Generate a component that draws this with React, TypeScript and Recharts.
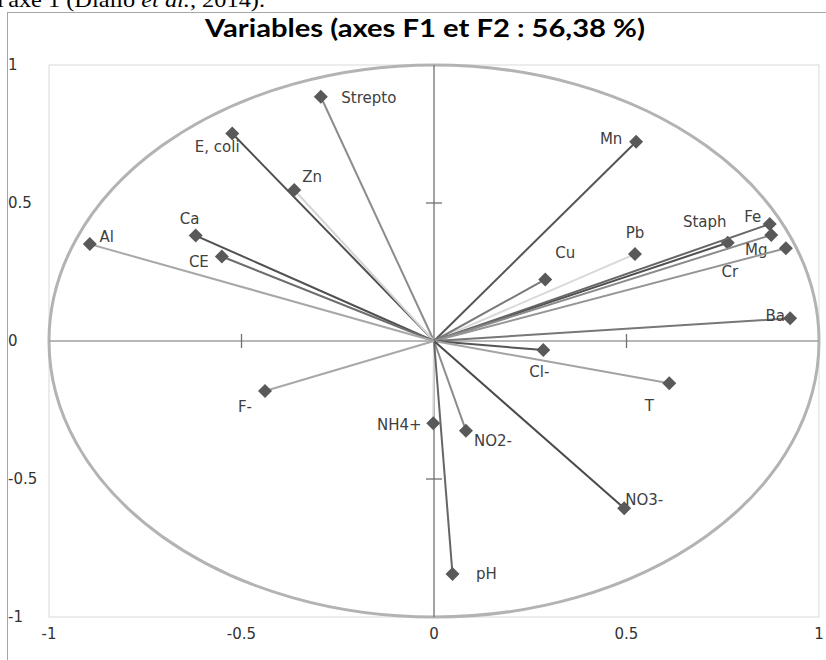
import {
  ReferenceArea,
  ReferenceDot,
  ReferenceLine,
  Scatter,
  ScatterChart,
  XAxis,
  YAxis
} from "recharts";

// loadings on F1 / F2
const VARIABLES = [
  "Strepto", "E, coli", "Zn", "Ca", "CE", "Al",
  "Mn", "Pb", "Cu", "Staph", "Fe", "Mg", "Cr", "Ba",
  "Cl-", "T", "NH4+", "NO2-", "NO3-", "pH", "F-"
];
const F1 = [
  -0.294, -0.524, -0.363, -0.619, -0.551, -0.894,
  0.525, 0.522, 0.289, 0.763, 0.872, 0.876, 0.914, 0.925,
  0.284, 0.611, -0.002, 0.083, 0.494, 0.048, -0.439
];
const F2 = [
  0.885, 0.752, 0.547, 0.382, 0.306, 0.351,
  0.722, 0.315, 0.223, 0.356, 0.424, 0.384, 0.336, 0.082,
  -0.033, -0.153, -0.298, -0.325, -0.606, -0.844, -0.181
];
const AXIS_TICKS = [-1, -0.5, 0, 0.5, 1];
const HALF_TICKS = [-0.5, 0.5];

// per-variable line colour (Excel greyscale) and label offset from the marker
const LINE_COLORS: Record<string, string> = {
  Strepto: "#8c8c8c", "E, coli": "#4f4f4f", Zn: "#d4d4d4", Ca: "#505050", CE: "#6e6e6e",
  Al: "#a8a8a8", Mn: "#555555", Pb: "#d9d9d9", Cu: "#7a7a7a", Staph: "#505050",
  Fe: "#666666", Mg: "#8a8a8a", Cr: "#959595", Ba: "#777777", "Cl-": "#555555",
  T: "#a3a3a3", "NH4+": "#d6d6d6", "NO2-": "#8c8c8c", "NO3-": "#4a4a4a", pH: "#666666",
  "F-": "#a8a8a8"
};
const LABEL_OFFSETS: Record<string, [number, number]> = {
  Strepto: [48, 1], "E, coli": [-15, 14], Zn: [18, -13], Ca: [-6, -17], CE: [-23, 5],
  Al: [17, -7], Mn: [-25, -3], Pb: [0, -21], Cu: [20, -26], Staph: [-23, -21],
  Fe: [-17, -7], Mg: [-15, 15], Cr: [-56, 24], Ba: [-15, -2], "Cl-": [-4, 22],
  T: [-20, 23], "NH4+": [-34, 2], "NO2-": [27, 10], "NO3-": [20, -8], pH: [34, 0],
  "F-": [-20, 16]
};

const LABEL_FONT = "'DejaVu Sans', Verdana, sans-serif";
const MARKER = "#595959";

const vectors = VARIABLES.map((name, i) => ({
  name,
  data: [
    { x: 0, y: 0, name: "" },
    { x: F1[i], y: F2[i], name }
  ]
}));

function VectorEnd(props: any) {
  const { cx, cy, payload } = props;
  if (!payload || !payload.name) return <g />;
  const [dx, dy] = LABEL_OFFSETS[payload.name] ?? [12, 0];
  const s = 7;
  return (
    <g>
      <polygon
        points={`${cx},${cy - s} ${cx + s},${cy} ${cx},${cy + s} ${cx - s},${cy}`}
        fill={MARKER}
      />
      <text
        x={cx + dx}
        y={cy + dy}
        textAnchor="middle"
        dominantBaseline="central"
        fontFamily={LABEL_FONT}
        fontSize={15}
        fill="#404040"
      >
        {payload.name}
      </text>
    </g>
  );
}

function XTick(props: any) {
  const { x, y, payload } = props;
  return (
    <text x={x} y={y + 22} textAnchor="middle" fontFamily={LABEL_FONT} fontSize={15} fill="#333">
      {payload.value}
    </text>
  );
}

function YTick(props: any) {
  const { y, payload } = props;
  return (
    <text x={8} y={y} dy="0.35em" textAnchor="start" fontFamily={LABEL_FONT} fontSize={15} fill="#333">
      {payload.value}
    </text>
  );
}

export default function App() {
  return (
    <div style={{ position: "absolute", left: 0, top: 0, width: 826, height: 660, overflow: "hidden", background: "#fff" }}>
      <svg width={826} height={660} style={{ position: "absolute", left: 0, top: 0 }}>
        <text
          x={-3}
          y={7}
          fontFamily="'Liberation Serif', 'Times New Roman', serif"
          fontSize={22}
          fill="#000"
          textLength={268}
          lengthAdjust="spacingAndGlyphs"
        >
          l'axe 1 (Diallo <tspan fontStyle="italic">et al.</tspan>, 2014).
        </text>
        <rect x={7.5} y={12.5} width={900} height={700} fill="none" stroke="#a6a6a6" strokeWidth={1} />
        <text
          x={425}
          y={37}
          textAnchor="middle"
          fontFamily="Lato, 'Open Sans', sans-serif"
          fontWeight={700}
          fontSize={24}
          fill="#000"
          textLength={440}
          lengthAdjust="spacingAndGlyphs"
        >
          Variables (axes F1 et F2 : 56,38 %)
        </text>
      </svg>
      <div style={{ position: "absolute", left: 0, top: 0 }}>
        <ScatterChart width={826} height={660} margin={{ top: 65, right: 7, bottom: 13, left: 9 }}>
          <XAxis
            type="number"
            dataKey="x"
            domain={[-1, 1]}
            ticks={AXIS_TICKS}
            allowDataOverflow
            height={30}
            axisLine={false}
            tickLine={false}
            tickSize={0}
            tickMargin={0}
            tick={<XTick />}
          />
          <YAxis
            type="number"
            dataKey="y"
            domain={[-1, 1]}
            ticks={AXIS_TICKS}
            allowDataOverflow
            width={40}
            axisLine={false}
            tickLine={false}
            tickSize={0}
            tickMargin={0}
            tick={<YTick />}
          />
          <ReferenceArea
            x1={-1}
            x2={1}
            y1={-1}
            y2={1}
            shape={(p: any) => (
              <g>
                <rect x={p.x} y={p.y} width={p.width} height={p.height} fill="none" stroke="#d9d9d9" strokeWidth={1} />
                <ellipse
                  cx={p.x + p.width / 2}
                  cy={p.y + p.height / 2}
                  rx={p.width / 2}
                  ry={p.height / 2}
                  fill="none"
                  stroke="#b3b3b3"
                  strokeWidth={3}
                />
              </g>
            )}
          />
          <ReferenceLine y={0} stroke="#a0a0a0" strokeWidth={1.5} />
          <ReferenceLine x={0} stroke="#707070" strokeWidth={1.3} />
          {HALF_TICKS.map((v) => (
            <ReferenceDot
              key={`xt${v}`}
              x={v}
              y={0}
              shape={(p: any) => <line x1={p.cx} x2={p.cx} y1={p.cy - 7} y2={p.cy + 7} stroke="#707070" strokeWidth={1.3} />}
            />
          ))}
          {HALF_TICKS.map((v) => (
            <ReferenceDot
              key={`yt${v}`}
              x={0}
              y={v}
              shape={(p: any) => <line x1={p.cx - 8} x2={p.cx + 8} y1={p.cy} y2={p.cy} stroke="#707070" strokeWidth={1.3} />}
            />
          ))}
          {vectors.map((v) => (
            <Scatter
              key={v.name}
              name={v.name}
              data={v.data}
              line={{ stroke: LINE_COLORS[v.name], strokeWidth: 2 }}
              shape={<VectorEnd />}
              isAnimationActive={false}
            />
          ))}
        </ScatterChart>
      </div>
    </div>
  );
}
